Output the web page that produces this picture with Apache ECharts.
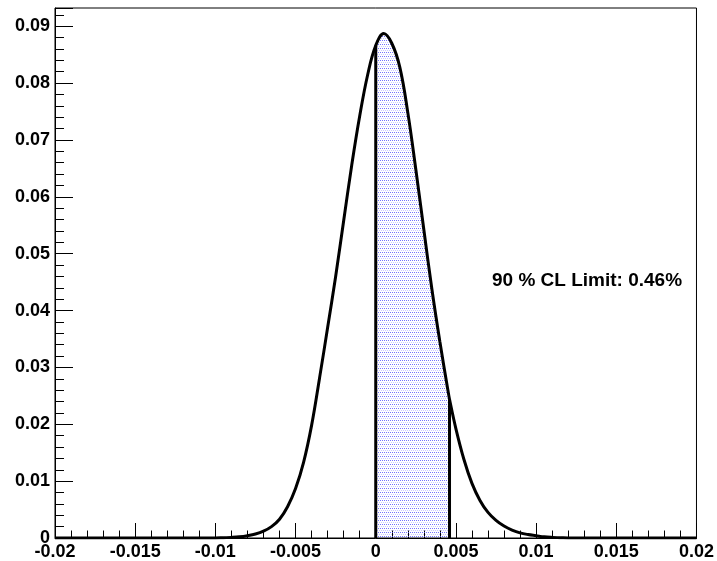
<!DOCTYPE html>
<html>
<head>
<meta charset="utf-8">
<script src="https://cdn.jsdelivr.net/npm/echarts@6/dist/echarts.min.js"></script>
<style>
  html, body { margin: 0; padding: 0; background: #fff; }
  #chart { width: 717px; height: 561px; }
</style>
</head>
<body>
<div id="chart"></div>
<script>
// Posterior density curve (x = parameter value, y = probability density)
const curveX = [-0.02, -0.01, -0.0095, -0.009, -0.0085, -0.008, -0.0075, -0.007, -0.0065, -0.006,
  -0.0055, -0.005, -0.0045, -0.004, -0.0035, -0.003, -0.0025, -0.002, -0.0015, -0.001,
  -0.0005, 0, 0.0005, 0.001, 0.0015, 0.002, 0.0025, 0.003, 0.0035, 0.004,
  0.0045, 0.0046, 0.005, 0.0055, 0.006, 0.0065, 0.007, 0.0075, 0.008, 0.0085,
  0.009, 0.0095, 0.01, 0.0105, 0.011, 0.0115, 0.012, 0.02];
const curveY = [0, 0, 0.00005, 0.0001, 0.0002, 0.0004, 0.0007, 0.0012, 0.0020, 0.0033,
  0.0055, 0.0087, 0.0133, 0.0198, 0.0282, 0.0370, 0.0460, 0.0558, 0.0655, 0.0742,
  0.0815, 0.0866, 0.0887, 0.0870, 0.0828, 0.0748, 0.0648, 0.0542, 0.0438, 0.0345,
  0.0260, 0.0244, 0.0192, 0.0138, 0.0096, 0.0066, 0.0045, 0.0031, 0.0021, 0.0014,
  0.0009, 0.0006, 0.0004, 0.0002, 0.0001, 0.00005, 0, 0];

// Integration range of the shaded region: from zero up to the 90% CL limit
const lowerEdge = 0;
const clLimit = 0.0046;
const limitText = '90 % CL Limit: 0.46%';

// Axis ranges and tick spacing
const xRange = [-0.02, 0.02];
const xStep = 0.005;
const yRange = [0, 0.0932];
const yStep = 0.01;

const curve = curveX.map((x, i) => [x, curveY[i]]);
const shaded = curve.filter(p => p[0] >= lowerEdge - 1e-12 && p[0] <= clLimit + 1e-12);
const yAt = x => curveY[curveX.findIndex(v => Math.abs(v - x) < 1e-12)];

// dotted fill pattern
function dotPattern() {
  const c = document.createElement('canvas');
  c.width = 4; c.height = 4;
  const g = c.getContext('2d');
  g.fillStyle = 'rgba(80,80,255,0.8)';
  g.fillRect(0, 0, 1, 1); g.fillRect(2, 0, 1, 1);
  g.fillStyle = 'rgba(150,150,255,0.5)';
  g.fillRect(1, 2, 1, 1); g.fillRect(3, 2, 1, 1);
  return c;
}

const fmt = v => {
  const r = Math.round(v * 1e6) / 1e6;
  return String(parseFloat(r.toFixed(4)));
};
const font = 'Liberation Sans';
const smoothing = 0.4;

const chart = echarts.init(document.getElementById('chart'), null, { renderer: 'canvas' });
chart.setOption({
  animation: false,
  backgroundColor: '#fff',
  grid: { left: 55, right: 18, top: 8, bottom: 23, show: true, borderColor: '#000', borderWidth: 1, backgroundColor: 'transparent' },
  xAxis: {
    type: 'value', min: xRange[0], max: xRange[1], interval: xStep,
    axisLine: { show: true, onZero: false, lineStyle: { color: '#000', width: 1 } },
    axisTick: { show: true, inside: true, length: 15, lineStyle: { color: '#000' } },
    minorTick: { show: true, splitNumber: 5, length: 7.5, lineStyle: { color: '#000' } },
    splitLine: { show: false },
    axisLabel: { color: '#000', fontFamily: font, fontWeight: 'bold', fontSize: 18, margin: 5, formatter: fmt }
  },
  yAxis: {
    type: 'value', min: yRange[0], max: yRange[1], interval: yStep,
    axisLine: { show: true, onZero: false, lineStyle: { color: '#000', width: 1 } },
    axisTick: { show: true, inside: true, length: 18, lineStyle: { color: '#000' } },
    minorTick: { show: true, splitNumber: 5, length: 9, lineStyle: { color: '#000' } },
    splitLine: { show: false },
    axisLabel: {
      color: '#000', fontFamily: font, fontWeight: 'bold', fontSize: 18, margin: 5,
      showMaxLabel: false,
      formatter: v => (Math.abs(v / yStep - Math.round(v / yStep)) < 1e-6 ? fmt(v) : '')
    }
  },
  series: [
    {
      type: 'line', data: shaded, smooth: smoothing, symbol: 'none', z: 1,
      lineStyle: { width: 0 },
      areaStyle: { color: { image: dotPattern(), repeat: 'repeat' }, opacity: 1, origin: 'start' }
    },
    {
      type: 'line', data: curve, smooth: smoothing, symbol: 'none', z: 3,
      lineStyle: { color: '#000', width: 3 }
    },
    {
      type: 'line', data: [[lowerEdge, 0], [lowerEdge, yAt(lowerEdge)]], symbol: 'none', z: 4,
      lineStyle: { color: '#000', width: 3 }
    },
    {
      type: 'line', data: [[clLimit, 0], [clLimit, yAt(clLimit)]], symbol: 'none', z: 4,
      lineStyle: { color: '#000', width: 3 }
    }
  ],
  graphic: [{
    type: 'text', left: 492, top: 271,
    style: { text: limitText, font: 'bold 19px "Liberation Sans"', fill: '#000' }
  }]
});
</script>
</body>
</html>
